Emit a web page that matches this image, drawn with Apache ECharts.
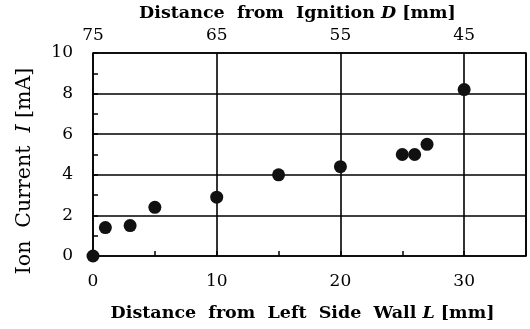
<!DOCTYPE html>
<html>
<head>
<meta charset="utf-8">
<script src="https://cdn.jsdelivr.net/npm/echarts@6/dist/echarts.min.js"></script>
<style>
  html, body { margin: 0; padding: 0; background: #fff; }
  #chart { width: 530px; height: 329px; }
</style>
</head>
<body>
<div id="chart"></div>
<script>
// distance from left side wall L [mm] and ion current I [mA]
const wallDistance = [0, 1, 3, 5, 10, 15, 20, 25, 26, 27, 30];
const ionCurrent = [0, 1.4, 1.5, 2.4, 2.9, 4.0, 4.4, 5.0, 5.0, 5.5, 8.2];
// top axis labels, distance from ignition D [mm], at L = 0, 10, 20, 30
const ignitionLabels = ['75', '65', '55', '45'];

const chartDom = document.getElementById('chart');
const myChart = echarts.init(chartDom);

const serif = 'DejaVu Serif';
const ink = '#000';

const labelStyle = { color: ink, fontFamily: serif, fontSize: 17 };
const titleStyle = { color: ink, fontFamily: serif, fontSize: 17.5, fontWeight: 'bold' };
const yNameStyle = { color: ink, fontFamily: serif, fontSize: 20.5 };

const points = wallDistance.map((x, i) => [x, ionCurrent[i]]);

const option = {
    animation: false,
    grid: {
        left: 93, right: 4, top: 53, bottom: 73,
        outerBoundsMode: 'none',
        show: true,
        borderColor: ink,
        borderWidth: 1.6,
        backgroundColor: 'transparent'
    },
    xAxis: [
        {
            type: 'value', position: 'bottom',
            min: 0, max: 35, interval: 10,
            name: '{b|Distance  from  Left  Side  Wall }{i|L}{b| [mm]}',
            nameLocation: 'middle', nameGap: 48,
            nameTextStyle: {
                padding: [0, 14, 0, 0],
                rich: {
                    b: titleStyle,
                    i: Object.assign({}, titleStyle, { fontStyle: 'italic' })
                }
            },
            axisLine: { show: false },
            axisTick: { show: false },
            axisLabel: Object.assign({ margin: 17, showMaxLabel: false }, labelStyle),
            splitLine: { show: true, lineStyle: { color: ink, width: 1.6 } }
        },
        {
            // minor ticks every 5 mm
            type: 'value', position: 'bottom',
            min: 0, max: 35, interval: 5,
            axisLine: { show: false },
            axisTick: { show: true, inside: true, length: 5, lineStyle: { color: ink, width: 1.5 } },
            axisLabel: { show: false },
            splitLine: { show: false }
        },
        {
            type: 'value', position: 'top',
            min: 0, max: 35, interval: 10,
            name: '{b|Distance  from  Ignition }{i|D}{b| [mm]}',
            nameLocation: 'middle', nameGap: 30,
            nameTextStyle: {
                padding: [0, 24, 0, 0],
                rich: {
                    b: titleStyle,
                    i: Object.assign({}, titleStyle, { fontStyle: 'italic' })
                }
            },
            axisLine: { show: false },
            axisTick: { show: false },
            axisLabel: Object.assign({
                margin: 9, showMaxLabel: false,
                formatter: v => ignitionLabels[v / 10] || ''
            }, labelStyle),
            splitLine: { show: false }
        }
    ],
    yAxis: [
        {
            type: 'value', position: 'left',
            min: 0, max: 10, interval: 2,
            name: '{r|Ion  Current  }{i|I}{r| [mA]}',
            nameLocation: 'middle', nameGap: 58, nameRotate: 90,
            nameTextStyle: {
                padding: [0, 33, 0, 0],
                rich: {
                    r: yNameStyle,
                    i: Object.assign({}, yNameStyle, { fontStyle: 'italic' })
                }
            },
            axisLine: { show: false },
            axisTick: { show: false },
            axisLabel: Object.assign({ margin: 20 }, labelStyle),
            splitLine: { show: true, lineStyle: { color: ink, width: 1.6 } }
        },
        {
            // minor ticks every 1 mA
            type: 'value', position: 'left',
            min: 0, max: 10, interval: 1,
            axisLine: { show: false },
            axisTick: { show: true, inside: true, length: 5, lineStyle: { color: ink, width: 1.5 } },
            axisLabel: { show: false },
            splitLine: { show: false }
        }
    ],
    series: [
        {
            type: 'scatter',
            xAxisIndex: 0,
            yAxisIndex: 0,
            symbol: 'circle',
            symbolSize: 13,
            itemStyle: { color: '#111', opacity: 1 },
            data: points,
            clip: false
        }
    ]
};

myChart.setOption(option);

window.addEventListener('resize', () => {
    myChart.resize();
});
</script>
</body>
</html>
